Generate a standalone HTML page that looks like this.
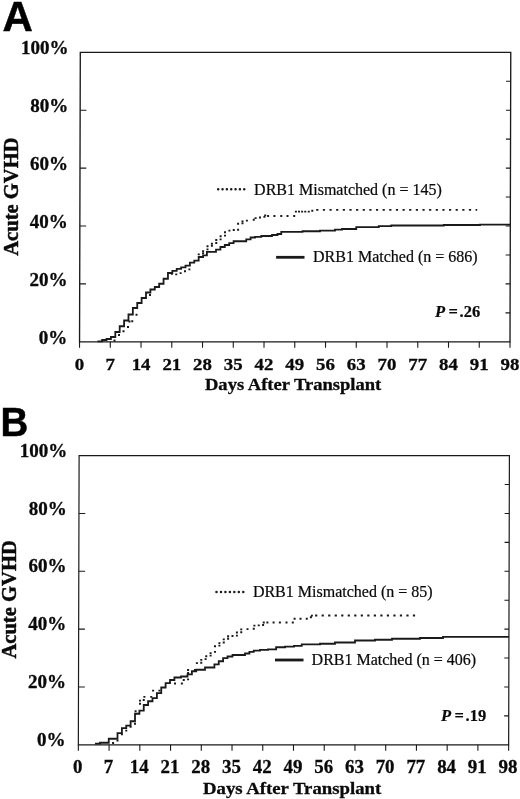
<!DOCTYPE html>
<html lang="en">
<head>
<meta charset="utf-8">
<title>Acute GVHD by DRB1 matching</title>
<style>
html,body{margin:0;padding:0;background:#fff;}
body{width:520px;height:799px;overflow:hidden;}
svg{display:block;}
text{fill:#0a0a0a;font-family:"Liberation Serif","Times New Roman",serif;}
.b18{font-size:18.2px;font-weight:bold;stroke:#0a0a0a;stroke-width:0.3px;}
.xlabA{font-size:17.3px;}
.xlabB{font-size:18.9px;}
.xt{font-size:17.6px;font-weight:bold;stroke:#0a0a0a;stroke-width:0.3px;}
.yt{font-size:20.6px;font-weight:bold;stroke:#0a0a0a;stroke-width:0.45px;}
.r16{font-size:16px;stroke:#0a0a0a;stroke-width:0.22px;}
.bp16{font-size:16.5px;font-weight:bold;stroke:#0a0a0a;stroke-width:0.2px;}
.panel{font-family:"Liberation Sans",Arial,sans-serif;font-weight:bold;fill:#000;stroke:#000;stroke-width:0.5px;}
</style>
</head>
<body>
<svg width="520" height="799" viewBox="0 0 520 799">
<rect x="0" y="0" width="520" height="799" fill="#ffffff"/>
<g id="panel-A">
<g transform="skewX(-0.15)">
<rect x="80.44" y="52.30" width="430.46" height="289.50" fill="none" stroke="#1a1a1a" stroke-width="1.35"/>
<path d="M80.44,341.80 v6 M111.19,341.80 v6 M141.93,341.80 v6 M172.68,341.80 v6 M203.43,341.80 v6 M234.18,341.80 v6 M264.92,341.80 v6 M295.67,341.80 v6 M326.42,341.80 v6 M357.16,341.80 v6 M387.91,341.80 v6 M418.66,341.80 v6 M449.41,341.80 v6 M480.15,341.80 v6 M510.90,341.80 v6 M80.44,283.90 h6.3 M80.44,226.00 h6.3 M80.44,168.10 h6.3 M80.44,110.20 h6.3 M510.90,312.85 h-4.6 M510.90,283.90 h-4.6 M510.90,254.95 h-4.6 M510.90,226.00 h-4.6 M510.90,197.05 h-4.6 M510.90,168.10 h-4.6 M510.90,139.15 h-4.6 M510.90,110.20 h-4.6 M510.90,81.25 h-4.6" fill="none" stroke="#1a1a1a" stroke-width="1.1"/>
</g>
<text class="b18 ylab" transform="translate(67.20,343.50) scale(1.045,1)" text-anchor="end">0%</text>
<text class="b18 ylab" transform="translate(67.46,285.60) scale(1.045,1)" text-anchor="end">20%</text>
<text class="b18 ylab" transform="translate(67.72,227.70) scale(1.045,1)" text-anchor="end">40%</text>
<text class="b18 ylab" transform="translate(67.98,169.80) scale(1.045,1)" text-anchor="end">60%</text>
<text class="b18 ylab" transform="translate(68.24,111.90) scale(1.045,1)" text-anchor="end">80%</text>
<text class="b18 ylab" transform="translate(68.50,54.00) scale(1.045,1)" text-anchor="end">100%</text>
<text class="b18 xlabA" transform="translate(79.55,370.30) scale(1.090,1)" text-anchor="middle">0</text>
<text class="b18 xlabA" transform="translate(110.29,370.30) scale(1.090,1)" text-anchor="middle">7</text>
<text class="b18 xlabA" transform="translate(141.04,370.30) scale(1.090,1)" text-anchor="middle">14</text>
<text class="b18 xlabA" transform="translate(171.79,370.30) scale(1.090,1)" text-anchor="middle">21</text>
<text class="b18 xlabA" transform="translate(202.53,370.30) scale(1.090,1)" text-anchor="middle">28</text>
<text class="b18 xlabA" transform="translate(233.28,370.30) scale(1.090,1)" text-anchor="middle">35</text>
<text class="b18 xlabA" transform="translate(264.03,370.30) scale(1.090,1)" text-anchor="middle">42</text>
<text class="b18 xlabA" transform="translate(294.78,370.30) scale(1.090,1)" text-anchor="middle">49</text>
<text class="b18 xlabA" transform="translate(325.52,370.30) scale(1.090,1)" text-anchor="middle">56</text>
<text class="b18 xlabA" transform="translate(356.27,370.30) scale(1.090,1)" text-anchor="middle">63</text>
<text class="b18 xlabA" transform="translate(387.02,370.30) scale(1.090,1)" text-anchor="middle">70</text>
<text class="b18 xlabA" transform="translate(417.76,370.30) scale(1.090,1)" text-anchor="middle">77</text>
<text class="b18 xlabA" transform="translate(448.51,370.30) scale(1.090,1)" text-anchor="middle">84</text>
<text class="b18 xlabA" transform="translate(479.26,370.30) scale(1.090,1)" text-anchor="middle">91</text>
<text class="b18 xlabA" transform="translate(510.01,370.30) scale(1.090,1)" text-anchor="middle">98</text>
<text class="xt" transform="translate(293.10,390.20) scale(1.055,1)" text-anchor="middle">Days After Transplant</text>
<text class="yt" transform="translate(18.10,196.60) rotate(-90)" text-anchor="middle">Acute GVHD</text>
<text class="panel" transform="translate(2.50,30.80) scale(1.000,1)" font-size="42.0">A</text>
<path d="M113.50,340.50h2 M118.00,335.00h2 M122.50,331.20h2 M127.00,327.00h2 M128.50,321.50h2 M131.25,321.25h2 M135.50,314.75h2 M149.00,295.00h2 M170.90,273.75h2 M175.25,274.40h2 M179.60,273.10h2 M184.00,271.25h2 M188.40,269.40h2 M197.75,254.40h2 M202.10,251.25h2 M202.10,253.30h2 M206.50,246.25h2 M206.50,249.40h2 M210.90,243.75h2 M210.90,245.80h2 M215.25,240.00h2 M215.25,243.00h2 M219.60,236.25h2 M219.60,239.40h2 M224.00,232.25h2 M224.00,235.60h2 M228.40,230.60h2 M232.75,230.00h2 M237.10,229.75h2 M237.10,223.75h2 M241.50,223.30h2 M241.50,221.30h2 M245.90,220.60h2 M252.75,219.75h2 M254.60,218.10h2 M259.00,217.50h2 M263.40,216.90h2 M264.20,215.40h2 M267.10,216.00h2 M273.40,216.00h2 M280.25,216.00h2 M286.50,216.00h2 M293.20,216.00h2 M294.90,211.60h2 M298.00,211.60h2 M301.10,211.60h2 M304.25,211.60h2 M307.75,211.60h2 M311.30,210.70h2" fill="none" stroke="#1a1a1a" stroke-width="1.85"/>
<path d="M316.20,209.80H477.20" fill="none" stroke="#1a1a1a" stroke-width="1.8" stroke-dasharray="2.2 4.44"/>
<path d="M97.50,341.30 H102.14 V340.00 H106.53 V339.00 H110.91 V337.00 H115.30 V332.00 H119.69 V326.25 H124.08 V320.50 H128.46 V314.50 H132.85 V308.00 H137.24 V303.00 H141.62 V298.00 H146.01 V292.50 H150.40 V289.50 H154.79 V287.00 H159.18 V283.75 H163.56 V278.75 H167.95 V273.00 H172.34 V270.80 H176.73 V268.90 H181.11 V267.40 H185.50 V265.70 H189.89 V262.60 H194.28 V260.60 H198.66 V257.00 H203.05 V255.30 H206.90 V251.90 H216.00 V249.70 H220.40 V247.00 H224.80 V245.00 H229.20 V243.10 H233.60 V241.25 H246.25 V239.40 H250.60 V237.50 H255.00 V236.90 H261.25 V236.00 H272.00 V235.00 H277.50 V234.00 H281.25 V231.90 H302.50 V231.25 H320.00 V230.60 H335.00 V229.60 H342.00 V229.00 H356.25 V227.20 H378.75 V226.20 H391.25 V225.50 H443.75 V225.00 H480.00 V224.60 H510.30 V224.60" fill="none" stroke="#1a1a1a" stroke-width="1.8"/>
<path d="M218.20,189.30 H244.40" stroke="#1a1a1a" stroke-width="2.5" stroke-linecap="round" stroke-dasharray="0.01 4.33" fill="none"/>
<text class="r16" x="254.10" y="195.10">DRB1 Mismatched (n = 145)</text>
<path d="M276.10,257.30 H304.50" stroke="#1a1a1a" stroke-width="2.8" fill="none"/>
<text class="r16" x="313.00" y="261.70">DRB1 Matched (n = 686)</text>
<text class="bp16" x="435.00" y="317.00"><tspan font-style="italic">P</tspan><tspan dx="-0.8"> =</tspan><tspan dx="1.7">.26</tspan></text>
</g>
<g id="panel-B">
<g transform="skewX(-0.15)">
<rect x="80.30" y="455.60" width="430.30" height="289.20" fill="none" stroke="#1a1a1a" stroke-width="1.20"/>
<path d="M80.30,744.80 v6 M111.04,744.80 v6 M141.77,744.80 v6 M172.51,744.80 v6 M203.24,744.80 v6 M233.98,744.80 v6 M264.71,744.80 v6 M295.45,744.80 v6 M326.19,744.80 v6 M356.92,744.80 v6 M387.66,744.80 v6 M418.39,744.80 v6 M449.13,744.80 v6 M479.86,744.80 v6 M510.60,744.80 v6 M80.30,686.96 h6.3 M80.30,629.12 h6.3 M80.30,571.28 h6.3 M80.30,513.44 h6.3 M510.60,715.88 h-4.6 M510.60,686.96 h-4.6 M510.60,658.04 h-4.6 M510.60,629.12 h-4.6 M510.60,600.20 h-4.6 M510.60,571.28 h-4.6 M510.60,542.36 h-4.6 M510.60,513.44 h-4.6 M510.60,484.52 h-4.6" fill="none" stroke="#1a1a1a" stroke-width="1.1"/>
</g>
<text class="b18 ylab" transform="translate(65.60,746.00) scale(1.045,1)" text-anchor="end">0%</text>
<text class="b18 ylab" transform="translate(65.92,688.16) scale(1.045,1)" text-anchor="end">20%</text>
<text class="b18 ylab" transform="translate(66.24,630.32) scale(1.045,1)" text-anchor="end">40%</text>
<text class="b18 ylab" transform="translate(66.56,572.48) scale(1.045,1)" text-anchor="end">60%</text>
<text class="b18 ylab" transform="translate(66.88,514.64) scale(1.045,1)" text-anchor="end">80%</text>
<text class="b18 ylab" transform="translate(67.20,456.80) scale(1.045,1)" text-anchor="end">100%</text>
<text class="b18 xlabB" transform="translate(77.75,773.40) scale(1.000,1)" text-anchor="middle">0</text>
<text class="b18 xlabB" transform="translate(108.49,773.40) scale(1.000,1)" text-anchor="middle">7</text>
<text class="b18 xlabB" transform="translate(139.22,773.40) scale(1.000,1)" text-anchor="middle">14</text>
<text class="b18 xlabB" transform="translate(169.96,773.40) scale(1.000,1)" text-anchor="middle">21</text>
<text class="b18 xlabB" transform="translate(200.69,773.40) scale(1.000,1)" text-anchor="middle">28</text>
<text class="b18 xlabB" transform="translate(231.43,773.40) scale(1.000,1)" text-anchor="middle">35</text>
<text class="b18 xlabB" transform="translate(262.16,773.40) scale(1.000,1)" text-anchor="middle">42</text>
<text class="b18 xlabB" transform="translate(292.90,773.40) scale(1.000,1)" text-anchor="middle">49</text>
<text class="b18 xlabB" transform="translate(323.64,773.40) scale(1.000,1)" text-anchor="middle">56</text>
<text class="b18 xlabB" transform="translate(354.37,773.40) scale(1.000,1)" text-anchor="middle">63</text>
<text class="b18 xlabB" transform="translate(385.11,773.40) scale(1.000,1)" text-anchor="middle">70</text>
<text class="b18 xlabB" transform="translate(415.84,773.40) scale(1.000,1)" text-anchor="middle">77</text>
<text class="b18 xlabB" transform="translate(446.58,773.40) scale(1.000,1)" text-anchor="middle">84</text>
<text class="b18 xlabB" transform="translate(477.31,773.40) scale(1.000,1)" text-anchor="middle">91</text>
<text class="b18 xlabB" transform="translate(508.05,773.40) scale(1.000,1)" text-anchor="middle">98</text>
<text class="xt" transform="translate(292.10,793.70) scale(1.066,1)" text-anchor="middle">Days After Transplant</text>
<text class="yt" transform="translate(16.40,599.40) rotate(-90)" text-anchor="middle">Acute GVHD</text>
<text class="panel" transform="translate(0.40,436.00) scale(0.940,1)" font-size="41.0">B</text>
<path d="M112.10,743.00h2 M116.50,740.60h2 M120.90,734.40h2 M125.25,730.60h2 M129.60,726.90h2 M134.00,723.75h2 M134.60,711.25h2 M139.00,703.75h2 M139.00,700.60h2 M142.75,700.00h2 M143.40,696.90h2 M150.25,696.90h2 M152.10,690.60h2 M158.40,690.60h2 M174.00,683.50h2 M180.90,683.50h2 M182.75,680.00h2 M187.10,679.40h2 M187.10,670.00h2 M187.10,673.00h2 M194.00,670.00h2 M195.90,663.10h2 M200.25,662.70h2 M200.25,659.80h2 M204.60,659.10h2 M205.25,656.25h2 M209.60,655.60h2 M209.60,653.10h2 M214.00,651.90h2 M214.00,646.25h2 M218.40,645.60h2 M218.40,643.10h2 M222.75,642.50h2 M222.75,639.40h2 M227.10,638.75h2 M227.10,636.25h2 M231.50,636.00h2 M235.90,635.60h2 M235.90,632.50h2 M240.25,632.25h2 M240.25,629.40h2 M246.50,629.10h2 M252.75,628.75h2 M253.40,625.60h2 M257.75,625.40h2 M262.10,625.00h2 M262.75,622.50h2 M266.40,622.50h2 M272.60,622.50h2 M278.90,622.50h2 M285.50,622.50h2 M291.80,622.50h2 M293.60,618.75h2 M299.50,618.75h2 M305.75,618.75h2 M309.90,617.20h2 M310.90,615.60h2" fill="none" stroke="#1a1a1a" stroke-width="1.85"/>
<path d="M315.10,615.50H415.40" fill="none" stroke="#1a1a1a" stroke-width="1.8" stroke-dasharray="2.2 4.32"/>
<path d="M95.00,743.60 H100.00 V742.75 H108.75 V738.75 H117.50 V733.10 H121.90 V728.10 H126.25 V725.60 H130.60 V721.25 H135.00 V713.75 H139.40 V710.60 H143.75 V705.00 H148.10 V701.25 H152.50 V698.10 H156.90 V693.10 H161.25 V687.50 H165.60 V683.10 H170.00 V680.00 H174.40 V677.50 H181.00 V676.50 H187.50 V674.40 H191.90 V671.25 H196.25 V669.75 H205.00 V667.50 H214.40 V664.40 H218.75 V661.25 H223.10 V658.10 H227.50 V656.50 H232.50 V655.00 H245.00 V653.50 H249.40 V651.90 H253.75 V650.60 H260.00 V649.80 H268.00 V649.40 H276.10 V647.25 H285.00 V646.60 H294.00 V645.90 H301.75 V644.40 H320.00 V643.75 H335.00 V642.50 H355.00 V640.50 H375.00 V639.75 H392.00 V638.75 H420.00 V638.00 H443.00 V636.80 H509.00 V636.80" fill="none" stroke="#1a1a1a" stroke-width="1.8"/>
<path d="M216.50,592.00 H243.40" stroke="#1a1a1a" stroke-width="2.5" stroke-linecap="round" stroke-dasharray="0.01 4.45" fill="none"/>
<text class="r16" x="252.90" y="597.00">DRB1 Mismatched (n = 85)</text>
<path d="M275.00,660.00 H303.50" stroke="#1a1a1a" stroke-width="2.8" fill="none"/>
<text class="r16" x="311.60" y="664.70">DRB1 Matched (n = 406)</text>
<text class="bp16" x="441.00" y="720.60"><tspan font-style="italic">P</tspan><tspan dx="-0.8"> =</tspan><tspan dx="1.7">.19</tspan></text>
</g>
</svg>
</body>
</html>
